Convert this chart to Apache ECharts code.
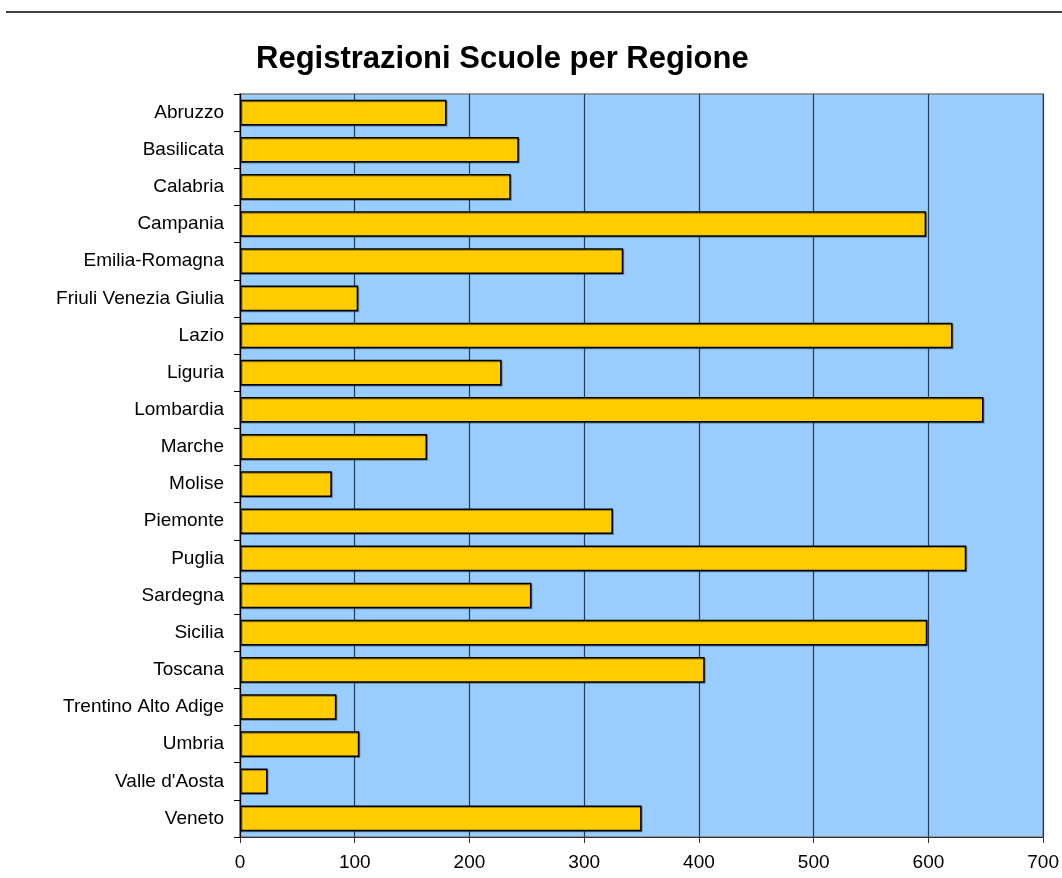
<!DOCTYPE html>
<html>
<head>
<meta charset="utf-8">
<script src="https://cdn.jsdelivr.net/npm/echarts@6/dist/echarts.min.js"></script>
<style>
  html, body { margin: 0; padding: 0; background: #fff; }
  #main { width: 1062px; height: 878px; }
</style>
</head>
<body>
<div id="main"></div>
<script>
let regioni = ['Abruzzo', 'Basilicata', 'Calabria', 'Campania', 'Emilia-Romagna',
    'Friuli Venezia Giulia', 'Lazio', 'Liguria', 'Lombardia', 'Marche', 'Molise',
    'Piemonte', 'Puglia', 'Sardegna', 'Sicilia', 'Toscana', 'Trentino Alto Adige',
    'Umbria', "Valle d'Aosta", 'Veneto'];
let registrazioni = [180, 243, 236, 598, 334, 103, 621, 228, 648, 163, 80,
    325, 633, 254, 599, 405, 84, 104, 24, 350];
let asseMin = 0;
let asseMax = 700;
let asseStep = 100;

let myChart = echarts.init(document.getElementById('main'));

let options = {
    animation: false,
    backgroundColor: '#ffffff',
    textStyle: { fontFamily: 'Liberation Sans, Arial, sans-serif' },
    title: {
        text: 'Registrazioni Scuole per Regione',
        left: 251,
        top: 39,
        textStyle: { fontSize: 31, fontWeight: 'bold', color: '#000' }
    },
    graphic: [{
        type: 'line',
        shape: { x1: 6, y1: 12, x2: 1062, y2: 12 },
        style: { stroke: '#000', lineWidth: 1.5 }
    }],
    grid: {
        left: 240,
        right: 16,
        top: 94,
        bottom: 41,
        show: true,
        backgroundColor: '#99CCFF',
        borderColor: '#808080',
        borderWidth: 1.5
    },
    xAxis: {
        type: 'value',
        min: asseMin,
        max: asseMax,
        interval: asseStep,
        axisLine: { show: true, lineStyle: { color: '#333', width: 1 } },
        axisTick: { show: true, length: 6, lineStyle: { color: '#333' } },
        axisLabel: { fontSize: 19, color: '#000', margin: 16 },
        splitLine: { show: true, lineStyle: { color: '#2b3a4a', width: 1.2 } }
    },
    yAxis: {
        type: 'category',
        data: regioni,
        inverse: true,
        axisLine: { show: true, lineStyle: { color: '#000', width: 1.2 } },
        axisTick: { show: true, length: 6, alignWithLabel: false, lineStyle: { color: '#000' } },
        axisLabel: { fontSize: 19, color: '#000', margin: 16 },
        splitLine: { show: false }
    },
    series: [
        {
            type: 'bar',
            data: registrazioni,
            barCategoryGap: '31%',
            itemStyle: {
                color: '#FFCC00',
                borderColor: '#000',
                borderWidth: 1.5,
                shadowColor: 'rgba(0,0,0,0.35)',
                shadowOffsetX: 1,
                shadowOffsetY: 1
            }
        }
    ]
};
myChart.setOption(options);
</script>
</body>
</html>
